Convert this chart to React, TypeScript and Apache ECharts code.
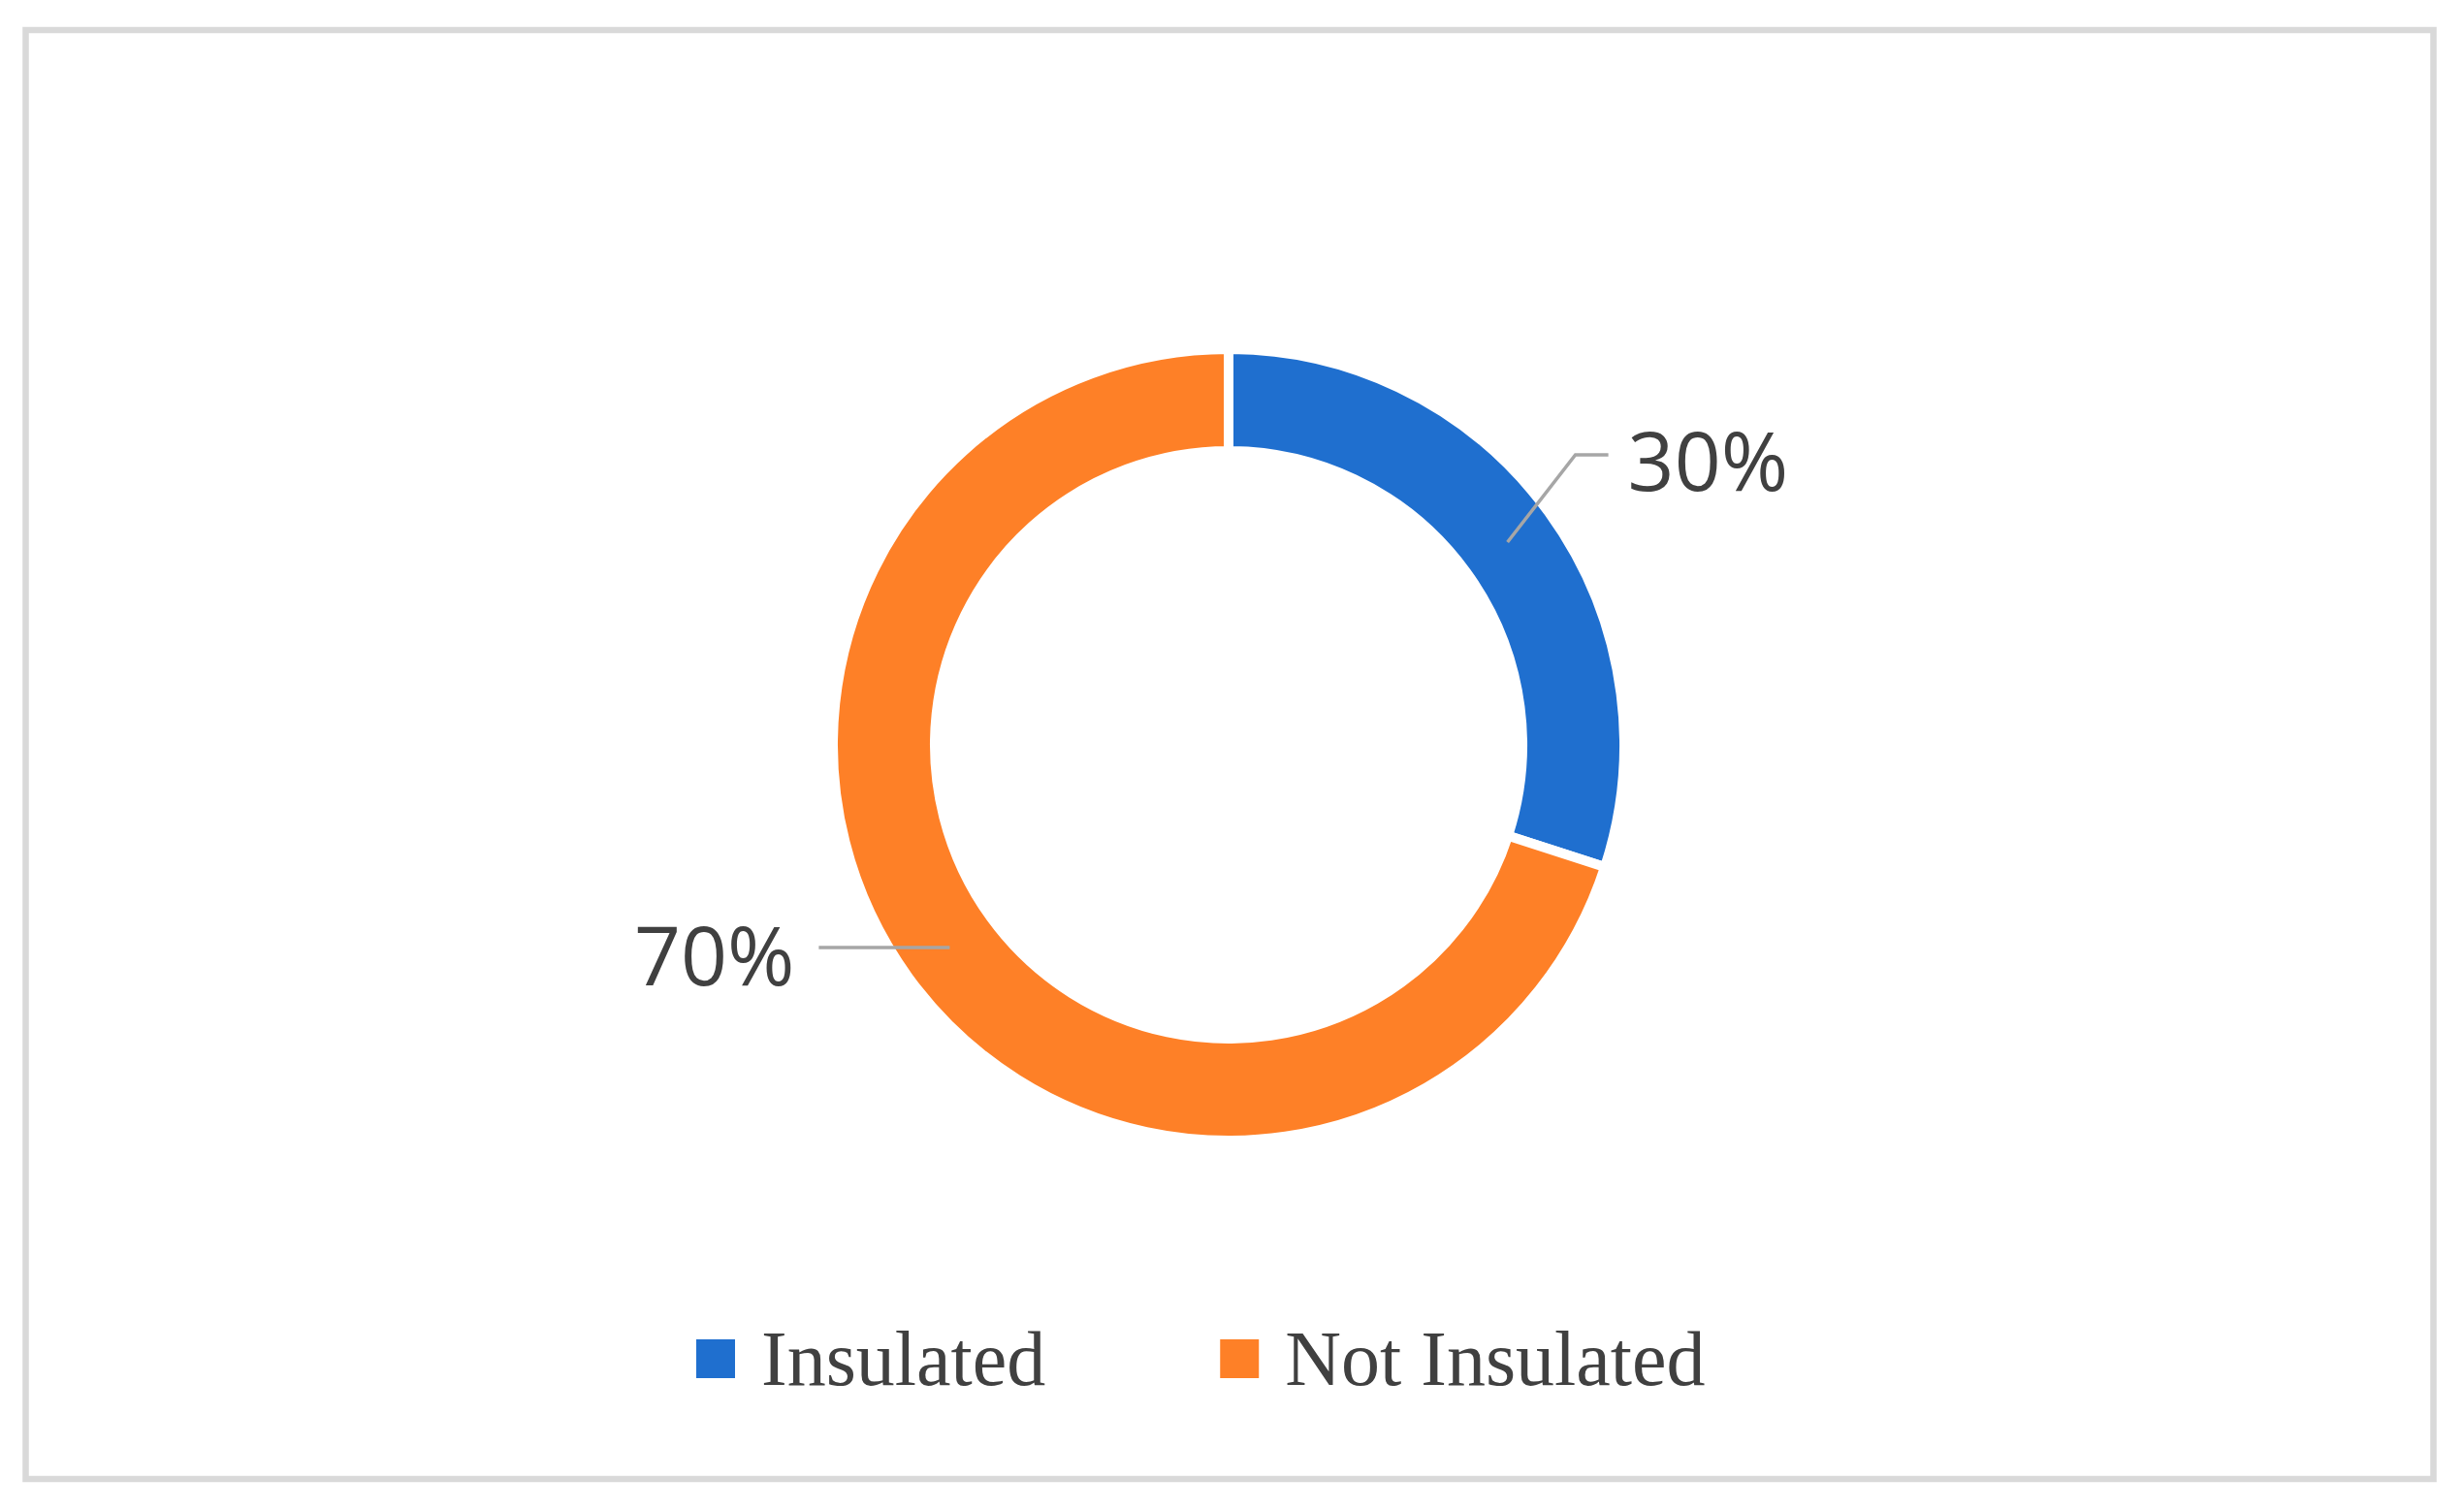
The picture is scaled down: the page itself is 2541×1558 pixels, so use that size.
import React, { useEffect, useRef } from "react";
import * as echarts from "echarts";

const categories = ["Insulated", "Not Insulated"];
const values = [30, 70];
const colors = ["#1f6fcf", "#fe8027"];

const CX = 1267;
const CY = 768;
const R_IN = 308;
const R_OUT = 403;
const GAP = 10;

export default function App() {
  const ref = useRef<HTMLDivElement>(null);

  useEffect(() => {
    if (!ref.current) return;
    const chart = echarts.init(ref.current, null, { renderer: "svg" });
    const total = values.reduce((a, b) => a + b, 0);
    const midAngle = (i: number) => {
      let cum = 0;
      for (let k = 0; k < i; k++) cum += values[k];
      return ((cum + values[i] / 2) / total) * Math.PI * 2;
    };
    const midR = (R_IN + R_OUT) / 2;

    const labelLayout = (p: any) => {
      const a = midAngle(p.dataIndex);
      const sx = CX + Math.sin(a) * midR;
      const sy = CY - Math.cos(a) * midR;
      if (Math.sin(a) >= 0) {
        const ex = sx + 70;
        const ey = sy - 90;
        const fx = ex + 34;
        return {
          x: fx + 20,
          y: ey + 4,
          align: "left",
          verticalAlign: "middle",
          labelLinePoints: [
            [sx, sy],
            [ex, ey],
            [fx, ey],
          ],
        };
      }
      const fx = sx - 135;
      return {
        x: fx - 25,
        y: sy + 7,
        align: "right",
        verticalAlign: "middle",
        labelLinePoints: [
          [sx, sy],
          [(sx + fx) / 2, sy],
          [fx, sy],
        ],
      };
    };

    chart.setOption({
      animation: false,
      backgroundColor: "#ffffff",
      graphic: [
        {
          type: "rect",
          shape: { x: 26.5, y: 31, width: 2483, height: 1494 },
          style: { fill: "none", stroke: "#d9d9d9", lineWidth: 6.5 },
          silent: true,
        },
      ],
      legend: {
        data: categories,
        left: 716,
        top: 1361,
        padding: 0,
        icon: "rect",
        itemWidth: 42,
        itemHeight: 42,
        itemGap: 178,
        textStyle: {
          fontFamily: "Liberation Serif",
          fontSize: 80,
          color: "#404040",
          padding: [0, 0, 0, 21],
        },
      },
      series: [
        {
          type: "pie",
          z: 2,
          center: [CX, CY],
          radius: [R_IN - GAP / 2, R_OUT + GAP / 2],
          startAngle: 90,
          clockwise: true,
          avoidLabelOverlap: false,
          itemStyle: { borderColor: "#ffffff", borderWidth: GAP },
          label: { show: false },
          labelLine: { show: false },
          data: categories.map((name, i) => ({
            name,
            value: values[i],
            itemStyle: { color: colors[i] },
          })),
        },
        {
          type: "pie",
          z: 5,
          silent: true,
          legendHoverLink: false,
          center: [CX, CY],
          radius: [R_IN, R_OUT],
          startAngle: 90,
          clockwise: true,
          avoidLabelOverlap: false,
          itemStyle: { color: "rgba(0,0,0,0)", borderWidth: 0 },
          label: {
            show: true,
            formatter: "{d}%",
            fontFamily: "Open Sans",
            fontSize: 84,
            color: "#404040",
          },
          labelLine: {
            show: true,
            showAbove: true,
            lineStyle: { color: "#a6a6a6", width: 3.5 },
          },
          labelLayout,
          data: categories.map((name, i) => ({
            name,
            value: values[i],
            itemStyle: { color: "rgba(0,0,0,0)" },
          })),
        },
      ],
    });
    return () => chart.dispose();
  }, []);

  return (
    <div
      ref={ref}
      style={{ position: "fixed", left: 0, top: 0, width: 2541, height: 1558, background: "#fff" }}
    />
  );
}
